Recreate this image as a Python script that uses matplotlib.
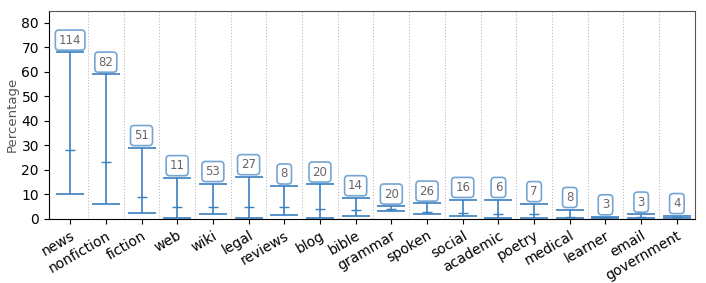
import matplotlib
matplotlib.use('Agg')
import matplotlib.pyplot as plt
import numpy as np

categories = ['news', 'nonfiction', 'fiction', 'web', 'wiki', 'legal', 'reviews', 'blog',
              'bible', 'grammar', 'spoken', 'social', 'academic', 'poetry', 'medical',
              'learner', 'email', 'government']
max_vals = [68, 59, 29, 16.7, 14.3, 17.1, 13.3, 14.1, 8.5, 5.1, 6.3, 7.8, 7.8, 6.1, 3.7, 0.7, 1.8, 1.2]
min_vals = [10.3, 6.0, 2.5, 0.3, 1.8, 0.3, 1.5, 0.3, 1.0, 3.2, 2.0, 1.0, 0.3, 0.3, 0.3, 0.3, 0.3, 0.3]
mid_vals = [28, 23, 9, 5, 4.8, 4.8, 4.8, 3.8, 3.7, 4.0, 2.7, 2.2, 1.8, 1.8, 0.8, 0.5, 0.8, 0.7]
counts = [114, 82, 51, 11, 53, 27, 8, 20, 14, 20, 26, 16, 6, 7, 8, 3, 3, 4]

color = '#3a7fc0'

fig = plt.figure(figsize=(7.06, 2.83), dpi=100)
ax = fig.add_axes([0.069, 0.227, 0.915, 0.735])

x = np.arange(len(categories))
mid = np.array(mid_vals)
lo = mid - np.array(min_vals)
hi = np.array(max_vals) - mid
ax.errorbar(x, mid, yerr=[lo, hi], fmt='_', color=color, ecolor=color,
            capsize=10, markersize=7, elinewidth=1.2, capthick=1.2)

# etiquetas con el numero de muestras
for i in range(len(categories)):
    ax.text(x[i], max_vals[i] + 5, str(counts[i]), ha='center', va='center',
            fontsize=8.5, color='#666666',
            bbox=dict(boxstyle='round,pad=0.3', fc='white', ec=color, alpha=0.7, lw=1.2))

for i in range(len(categories) - 1):
    ax.axvline(i + 0.5, color='#bbbbbb', linestyle=':', linewidth=0.8)

ax.set_xlim(-0.6, 17.5)
ax.set_ylim(0, 85)
ax.set_yticks(range(0, 81, 10))
ax.set_xticks(x)
ax.set_xticklabels(categories, rotation=30, ha='right', fontsize=10, rotation_mode='anchor')
ax.tick_params(axis='y', labelsize=10)
ax.set_ylabel('Percentage', color='#555555', fontsize=9.5, labelpad=2)
for s in ['top', 'right']:
    ax.spines[s].set_color('#555555')

plt.savefig('out.png', dpi=100)
